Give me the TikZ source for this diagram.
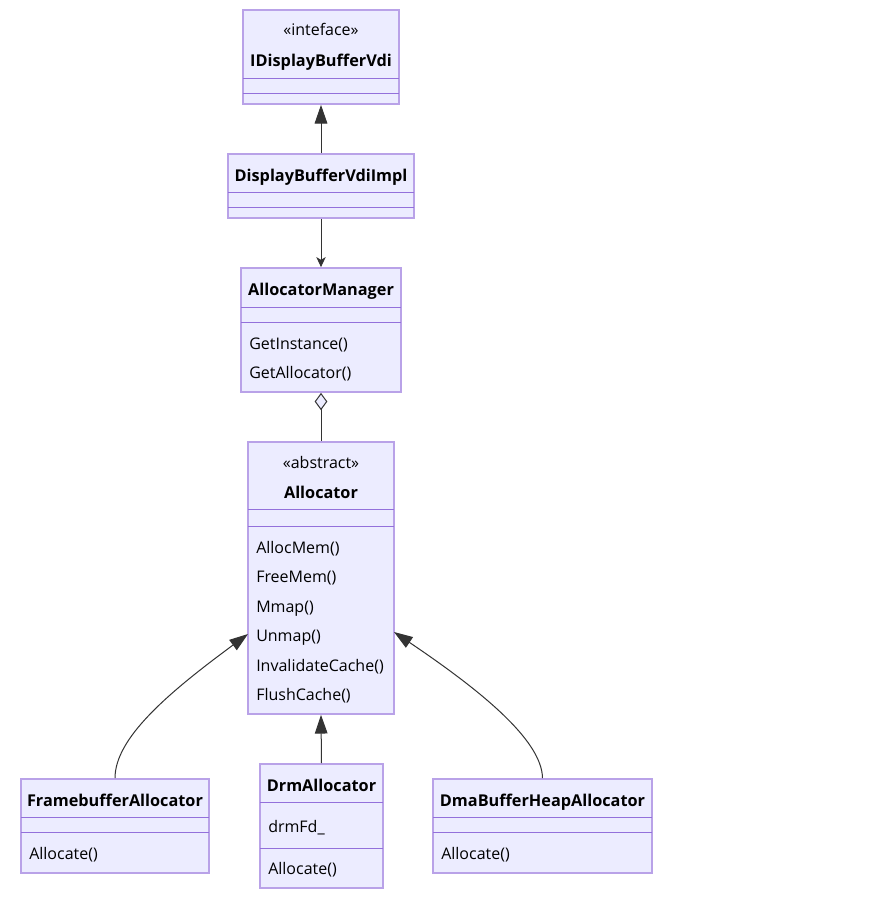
\documentclass[tikz,border=0pt]{standalone}
\usepackage{fontspec}
\setmainfont{Open Sans}
\usepackage{tikz}
\usepackage{xcolor}
\usetikzlibrary{arrows.meta,fit}
\definecolor{ClassFill}{HTML}{ECECFF}
\definecolor{ClassLine}{HTML}{9370DB}
\definecolor{EdgeGray}{HTML}{333333}

\begin{document}
\begin{tikzpicture}[x=0.75pt,y=-0.75pt,
          cls/.style={draw=ClassLine!65,fill=ClassFill,line width=1.3pt,
                      inner sep=0pt},
          div/.style={draw=ClassLine,line width=0.75pt},
          title/.style={anchor=base,inner sep=0pt,
                        font=\fontsize{12.2}{14}\selectfont\bfseries},
          stereo/.style={anchor=base,inner sep=0pt,
                         font=\fontsize{12}{14}\selectfont},
          member/.style={anchor=base west,inner sep=0pt,
                         font=\fontsize{12}{14}\selectfont},
          edge/.style={draw=EdgeGray,line width=0.75pt},
          real/.style={edge,-{Triangle[length=14pt,width=9.5pt]}},
          dep/.style={edge,-{Stealth[length=7.5pt,width=7pt,inset=2pt]}},
          aggr/.style={edge,-{Diamond[length=13pt,width=9.5pt,fill=ClassFill]}}]
        \fill[white] (0,0) rectangle (894,897);
        \useasboundingbox (0,0) rectangle (894,897);

        % interface
        \node[cls,fit={(243,10) (399,104)}] (ivdi) {};
        \draw[div] (243,78) -- (399,78);
        \draw[div] (243,93) -- (399,93);
        \node[stereo] (ivdi-st) at (321,35) {«inteface»};
        \node[title] (ivdi-name) at (321,66.5) {IDisplayBufferVdi};

        % implementation
        \node[cls,fit={(228,154) (414,218)}] (impl) {};
        \draw[div] (228,192) -- (414,192);
        \draw[div] (228,207) -- (414,207);
        \node[title] (impl-name) at (321,181) {DisplayBufferVdiImpl};

        % manager
        \node[cls,fit={(241,268) (401,392)}] (mgr) {};
        \draw[div] (241,307) -- (401,307);
        \draw[div] (241,322) -- (401,322);
        \node[title] (mgr-name) at (321,295) {AllocatorManager};
        \node[member] (mgr-m1) at (249,349) {GetInstance()};
        \node[member] (mgr-m2) at (249,378) {GetAllocator()};

        % abstract allocator
        \node[cls,fit={(248,442) (394,714)}] (alloc) {};
        \draw[div] (248,509) -- (394,509);
        \draw[div] (248,526) -- (394,526);
        \node[stereo] (alloc-st) at (321,468) {«abstract»};
        \node[title] (alloc-name) at (321,498) {Allocator};
        \foreach \m [count=\i from 0] in {AllocMem(),FreeMem(),Mmap(),
                                          Unmap(),InvalidateCache(),FlushCache()}
          \node[member] (alloc-m\i) at (256,553+29.5*\i) {\m};

        % concrete allocators
        \node[cls,fit={(21,779) (209,873)}] (fb) {};
        \draw[div] (21,817) -- (209,817);
        \draw[div] (21,832) -- (209,832);
        \node[title] (fb-name) at (115,806) {FramebufferAllocator};
        \node[member] (fb-m1) at (29,859) {Allocate()};

        \node[cls,fit={(260,764) (383,888)}] (drm) {};
        \draw[div] (260,802) -- (383,802);
        \draw[div] (260,848) -- (383,848);
        \node[title] (drm-name) at (321.5,791) {DrmAllocator};
        \node[member] (drm-f1) at (268,832) {drmFd\_};
        \node[member] (drm-m1) at (268,874) {Allocate()};

        \node[cls,fit={(433,779) (652,873)}] (dma) {};
        \draw[div] (433,817) -- (652,817);
        \draw[div] (433,832) -- (652,832);
        \node[title] (dma-name) at (542.5,806) {DmaBufferHeapAllocator};
        \node[member] (dma-m1) at (441,859) {Allocate()};

        % relations
        \coordinate (alloc-in-l) at (248,634);
        \coordinate (alloc-in-r) at (394,632);
        \draw[real] (impl.north) -- (ivdi.south);
        \draw[dep] (impl.south) -- (mgr.north);
        \draw[aggr] (alloc.north) -- (mgr.south);
        \draw[real] (drm.north) -- (alloc.south);
        \draw[real] (fb.north) .. controls (115,738) and (168,693) .. (alloc-in-l);
        \draw[real] (dma.north) .. controls (542,740) and (480,690) .. (alloc-in-r);
      \end{tikzpicture}
\end{document}
